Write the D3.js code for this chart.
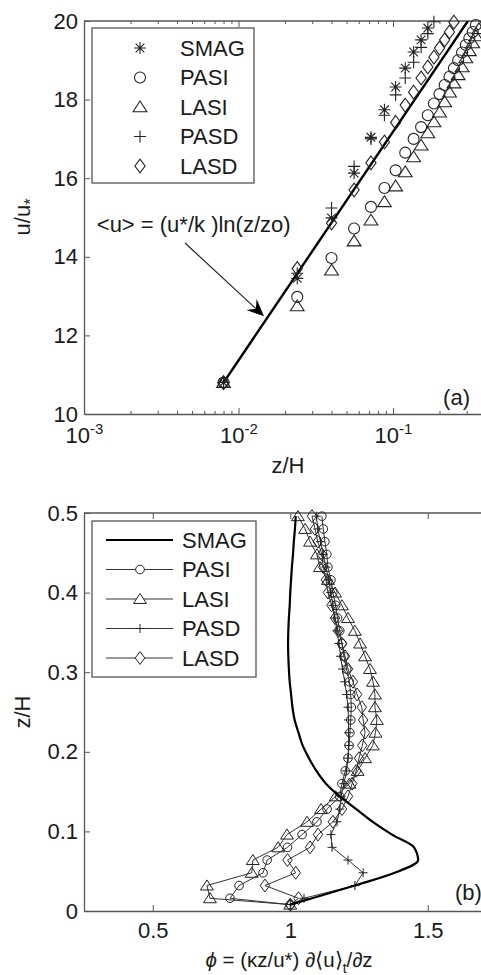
<!DOCTYPE html>
<html><head><meta charset="utf-8">
<script src="https://cdn.jsdelivr.net/npm/d3@7"></script>
<style>
html,body{margin:0;padding:0;background:#fff;}
svg{display:block;font-family:"Liberation Sans",Arial,sans-serif;}
</style></head>
<body>
<svg id="c" width="481" height="975"></svg>
<script>
// ---------------- DATA ----------------
// Panel (a): mean velocity u/u* vs z/H (log z)
const seriesNames = ["SMAG", "PASI", "LASI", "PASD", "LASD"];
const zTop = [0.008, 0.024, 0.040, 0.056, 0.072, 0.088, 0.104, 0.120, 0.136, 0.152, 0.168, 0.184,
              0.200, 0.216, 0.232, 0.248, 0.264, 0.280, 0.296, 0.312, 0.328, 0.344, 0.360];
const uSMAG = [10.80, 13.45, 14.99, 16.13, 17.04, 17.74, 18.32, 18.80, 19.21, 19.52, 19.82];
const uPASI = [10.80, 12.98, 13.97, 14.72, 15.27, 15.75, 16.20, 16.65, 17.00, 17.30, 17.60, 17.90,
               18.14, 18.37, 18.58, 18.80, 19.00, 19.20, 19.39, 19.56, 19.72, 19.90];
const uLASI = [10.80, 12.75, 13.66, 14.40, 14.93, 15.40, 15.80, 16.16, 16.54, 16.84, 17.15, 17.43,
               17.68, 17.94, 18.19, 18.42, 18.63, 18.83, 19.06, 19.24, 19.44, 19.62, 19.80];
const uPASD = [10.80, 13.58, 15.24, 16.30, 17.00, 17.60, 18.12, 18.55, 18.95, 19.33, 19.68, 19.98];
const uLASD = [10.80, 13.70, 14.86, 15.70, 16.39, 16.92, 17.42, 17.86, 18.19, 18.55, 18.83, 19.08,
               19.31, 19.52, 19.72, 19.97];
// log-law reference line endpoints (z/H, u/u*)
const lawZ = [0.008, 0.31];
const lawU = [10.80, 20.04];
const yTicksTop = [10, 12, 14, 16, 18, 20];
const xTicksTop = [1e-3, 1e-2, 1e-1];

// Panel (b): phi vs z/H
const zBot = [0.008, 0.016, 0.032, 0.048, 0.064, 0.080, 0.096, 0.112, 0.128, 0.144, 0.160, 0.176,
              0.192, 0.208, 0.224, 0.240, 0.256, 0.272, 0.288, 0.304, 0.320, 0.336, 0.352, 0.368,
              0.384, 0.400, 0.416, 0.432, 0.448, 0.464, 0.480, 0.496];
const phiSMAG = [1.00, 1.08, 1.235, 1.38, 1.465, 1.45, 1.37, 1.30, 1.24, 1.18, 1.13, 1.095,
                 1.068, 1.045, 1.03, 1.016, 1.008, 1.003, 0.998, 0.995, 0.993, 0.992, 0.993, 0.995,
                 0.998, 1.00, 1.003, 1.006, 1.01, 1.013, 1.017, 1.02];
const phiPASI = [1.00, 0.781, 0.814, 0.901, 0.916, 0.99, 1.043, 1.097, 1.134, 1.18, 1.188, 1.20,
                 1.21, 1.214, 1.217, 1.22, 1.222, 1.22, 1.215, 1.205, 1.195, 1.188, 1.18, 1.172,
                 1.165, 1.155, 1.148, 1.137, 1.133, 1.126, 1.12, 1.115];
const phiLASI = [1.00, 0.708, 0.697, 0.86, 0.864, 0.956, 0.988, 1.061, 1.112, 1.165, 1.215, 1.245,
                 1.272, 1.30, 1.31, 1.315, 1.308, 1.308, 1.301, 1.29, 1.272, 1.254, 1.235, 1.21,
                 1.188, 1.163, 1.137, 1.108, 1.097, 1.072, 1.054, 1.028];
const phiPASD = [1.00, 1.05, 1.235, 1.265, 1.21, 1.152, 1.148, 1.17, 1.18, 1.185, 1.195, 1.205,
                 1.21, 1.212, 1.212, 1.212, 1.21, 1.205, 1.198, 1.19, 1.183, 1.177, 1.17, 1.162,
                 1.155, 1.147, 1.14, 1.13, 1.12, 1.11, 1.10, 1.095];
const phiLASD = [1.00, 1.03, 0.908, 1.02, 0.99, 1.072, 1.101, 1.155, 1.188, 1.21, 1.225, 1.24,
                 1.25, 1.262, 1.272, 1.265, 1.26, 1.243, 1.228, 1.21, 1.199, 1.188, 1.174, 1.163,
                 1.15, 1.137, 1.13, 1.12, 1.115, 1.10, 1.09, 1.079];
const yTicksBot = [0, 0.1, 0.2, 0.3, 0.4, 0.5];
const xTicksBot = [0.5, 1, 1.5];

// ---------------- DRAWING ----------------
const svg = d3.select("#c");
const INK = "#1a1a1a", AX = "#555";
const FS = 22;

function sym(type, s) {
  switch (type) {
    case "circle": return `M${-s},0A${s},${s} 0 1,0 ${s},0A${s},${s} 0 1,0 ${-s},0Z`;
    case "tri": return `M0,${-s*1.0}L${s*1.15},${s*0.8}L${-s*1.15},${s*0.8}Z`;
    case "diamond": return `M0,${-s*1.15}L${s*0.85},0L0,${s*1.15}L${-s*0.85},0Z`;
    case "plus": return `M${-s},0H${s}M0,${-s}V${s}`;
    case "star": { const d = s*0.72;
      return `M${-s},0H${s}M0,${-s}V${s}M${-d},${-d}L${d},${d}M${-d},${d}L${d},${-d}`; }
  }
  return "";
}
const symOf = {SMAG: "star", PASI: "circle", LASI: "tri", PASD: "plus", LASD: "diamond"};

function styleAxis(g) {
  g.selectAll("path.domain").attr("stroke", AX).attr("stroke-width", 1.3);
  g.selectAll("line").attr("stroke", AX);
  g.selectAll("text").attr("font-size", FS).attr("fill", INK).attr("font-family", "Liberation Sans, Arial, sans-serif");
}

// ===== Panel (a) =====
const xT = d3.scaleLog().domain([1e-3, 1]).range([84, 547.5]);
const yT = d3.scaleLinear().domain([10, 20]).range([414, 21]);
const gA = svg.append("g");

svg.append("clipPath").attr("id", "clipA").append("rect")
  .attr("x", 84).attr("y", 21).attr("width", 463.5).attr("height", 393);

gA.append("line").attr("x1", 84).attr("x2", 547.5).attr("y1", 21).attr("y2", 21).attr("stroke", AX).attr("stroke-width", 1.3);

const minorTop = [];
[1e-3, 1e-2, 1e-1].forEach(dd => { for (let k = 2; k <= 9; k++) minorTop.push(dd * k); });

const axBxMinor = gA.append("g").attr("transform", "translate(0,414)")
  .call(d3.axisBottom(xT).tickValues(minorTop).tickSize(-3).tickSizeOuter(0).tickFormat(() => ""));
const axTxMinor = gA.append("g").attr("transform", "translate(0,21)")
  .call(d3.axisTop(xT).tickValues(minorTop).tickSize(-3).tickSizeOuter(0).tickFormat(() => ""));
axBxMinor.selectAll(".domain").remove();
axTxMinor.selectAll(".domain").remove();
axBxMinor.selectAll("text").remove();
axTxMinor.selectAll("text").remove();

const axBx = gA.append("g").attr("transform", "translate(0,414)")
  .call(d3.axisBottom(xT).tickValues(xTicksTop).tickSize(-6).tickSizeOuter(0).tickPadding(13).tickFormat(() => ""));
const axTx = gA.append("g").attr("transform", "translate(0,21)")
  .call(d3.axisTop(xT).tickValues(xTicksTop).tickSize(-6).tickSizeOuter(0).tickFormat(() => ""));
axTx.selectAll(".domain").remove();
axTx.selectAll("text").remove();
const axLy = gA.append("g").attr("transform", "translate(84,0)")
  .call(d3.axisLeft(yT).tickValues(yTicksTop).tickSize(-6).tickSizeOuter(0).tickPadding(6).tickFormat(d3.format("d")));
[axBxMinor, axTxMinor, axBx, axLy, axTx].forEach(styleAxis);
axBx.selectAll(".tick text").each(function(d) {
  const t = d3.select(this);
  t.text(null).attr("font-size", FS).attr("fill", INK);
  t.append("tspan").text("10");
  t.append("tspan").attr("dy", -9).attr("font-size", 15).text(String(Math.round(Math.log10(d))));
});

// log-law line
gA.append("path").attr("clip-path", "url(#clipA)")
  .datum(lawZ.map((z, i) => [z, lawU[i]]))
  .attr("d", d3.line().x(d => xT(d[0])).y(d => yT(d[1])))
  .attr("fill", "none").attr("stroke", "#000").attr("stroke-width", 2.4);

// markers
const topSeries = {SMAG: uSMAG, PASI: uPASI, LASI: uLASI, PASD: uPASD, LASD: uLASD};
["LASI", "PASI", "LASD", "PASD", "SMAG"].forEach(name => {
  const vals = topSeries[name];
  const pts = vals.map((u, i) => [zTop[i], u]).filter(p => p[1] <= 20.05);
  gA.append("g").selectAll("path").data(pts).join("path")
    .attr("transform", d => `translate(${xT(d[0])},${yT(d[1])})`)
    .attr("d", sym(symOf[name], symOf[name] === "circle" ? 5.5 : 6))
    .attr("fill", "none").attr("stroke", "#222").attr("stroke-width", 1.1);
});

// legend (a)
const legA = gA.append("g");
legA.append("rect").attr("x", 92).attr("y", 28).attr("width", 162).attr("height", 155)
  .attr("fill", "#fff").attr("stroke", AX).attr("stroke-width", 1.3);
const legYa = d3.scalePoint().domain(seriesNames).range([48, 166]);
seriesNames.forEach(n => {
  legA.append("path").attr("transform", `translate(140,${legYa(n)})`)
    .attr("d", sym(symOf[n], symOf[n] === "circle" ? 5.5 : 6))
    .attr("fill", "none").attr("stroke", "#222").attr("stroke-width", 1.1);
  legA.append("text").attr("x", 180).attr("y", legYa(n)).attr("dy", "0.36em")
    .attr("font-size", FS).attr("fill", INK).text(n);
});

// annotation + arrow (data coordinates)
const annoZ = [0.00121], annoU = [14.63];
const arrowZ = [0.00451, 0.01462], arrowU = [14.35, 12.49];
gA.append("text").attr("x", xT(annoZ[0])).attr("y", yT(annoU[0]))
  .attr("font-size", FS).attr("fill", INK).text("<u> = (u*/k )ln(z/zo)");
{
  const x1 = xT(arrowZ[0]), y1 = yT(arrowU[0]), x2 = xT(arrowZ[1]), y2 = yT(arrowU[1]);
  const ang = Math.atan2(y2 - y1, x2 - x1);
  const L = 17, Wd = 7.5, back = 11;
  gA.append("line").attr("x1", x1).attr("y1", y1)
    .attr("x2", x2 - Math.cos(ang) * back).attr("y2", y2 - Math.sin(ang) * back)
    .attr("stroke", "#222").attr("stroke-width", 1.2);
  const c = Math.cos(ang), s = Math.sin(ang);
  const P = (a, b) => [x2 + a * c - b * s, y2 + a * s + b * c];
  const p0 = P(0, 0), p1 = P(-L, -Wd), p2 = P(-back, 0), p3 = P(-L, Wd);
  gA.append("path").attr("d", `M${p0}L${p1}L${p2}L${p3}Z`).attr("fill", "#000");
}
gA.append("text").attr("x", xT(0.211)).attr("y", yT(10.23)).attr("font-size", FS).attr("fill", INK).text("(a)");

// axis titles (a)
gA.append("text").attr("transform", "translate(30,217) rotate(-90)").attr("text-anchor", "middle")
  .attr("font-size", FS).attr("fill", INK)
  .call(t => { t.append("tspan").text("u/u"); t.append("tspan").attr("dy", 6).attr("font-size", 16).text("*"); });
gA.append("text").attr("x", 288).attr("y", 473).attr("text-anchor", "middle")
  .attr("font-size", FS).attr("fill", INK).text("z/H");

// ===== Panel (b) =====
const xB = d3.scaleLinear().domain([0.25, 1.75]).range([84, 496.5]);
const yB = d3.scaleLinear().domain([0, 0.5]).range([911, 513]);
const gB = svg.append("g");
gB.append("line").attr("x1", 84).attr("x2", 496.5).attr("y1", 513).attr("y2", 513).attr("stroke", AX).attr("stroke-width", 1.3);
const bx = gB.append("g").attr("transform", "translate(0,911)")
  .call(d3.axisBottom(xB).tickValues(xTicksBot).tickSize(-6).tickSizeOuter(0).tickPadding(11.5).tickFormat(d3.format("")));
const tx = gB.append("g").attr("transform", "translate(0,513)")
  .call(d3.axisTop(xB).tickValues(xTicksBot).tickSize(-6).tickSizeOuter(0).tickFormat(() => ""));
tx.selectAll(".domain").remove();
tx.selectAll("text").remove();
const by = gB.append("g").attr("transform", "translate(84,0)")
  .call(d3.axisLeft(yB).tickValues(yTicksBot).tickSize(-6).tickSizeOuter(0).tickPadding(6).tickFormat(d3.format("")));
[bx, tx, by].forEach(styleAxis);

const botSeries = {PASI: phiPASI, LASI: phiLASI, PASD: phiPASD, LASD: phiLASD};
const lineB = d3.line().x(d => xB(d[0])).y(d => yB(d[1]));
["LASI", "PASI", "LASD", "PASD"].forEach(name => {
  const pts = botSeries[name].map((p, i) => [p, zBot[i]]);
  gB.append("path").datum(pts).attr("d", lineB).attr("fill", "none").attr("stroke", "#333").attr("stroke-width", 1);
  gB.append("g").selectAll("path").data(pts).join("path")
    .attr("transform", d => `translate(${xB(d[0])},${yB(d[1])})`)
    .attr("d", sym(symOf[name], name === "PASI" ? 4.3 : (name === "PASD" ? 4.5 : 5.6)))
    .attr("fill", "none").attr("stroke", "#222").attr("stroke-width", 1);
});
gB.append("path").datum(phiSMAG.map((p, i) => [p, zBot[i]]))
  .attr("d", d3.line().curve(d3.curveMonotoneY).x(d => xB(d[0])).y(d => yB(d[1])))
  .attr("fill", "none").attr("stroke", "#000").attr("stroke-width", 2.2);

// legend (b)
const legB = gB.append("g");
legB.append("rect").attr("x", 92).attr("y", 521).attr("width", 164).attr("height", 156)
  .attr("fill", "#fff").attr("stroke", AX).attr("stroke-width", 1.3);
const legYb = d3.scalePoint().domain(seriesNames).range([540, 658]);
seriesNames.forEach(n => {
  const y = legYb(n);
  legB.append("line").attr("x1", 106).attr("x2", 173).attr("y1", y).attr("y2", y)
    .attr("stroke", n === "SMAG" ? "#000" : "#333").attr("stroke-width", n === "SMAG" ? 2.2 : 1);
  if (n !== "SMAG") {
    legB.append("path").attr("transform", `translate(140,${y})`)
      .attr("d", sym(symOf[n], n === "PASI" ? 4.3 : (n === "PASD" ? 4.5 : 5.6)))
      .attr("fill", n === "PASD" ? "none" : "#fff").attr("stroke", "#222").attr("stroke-width", 1);
  }
  legB.append("text").attr("x", 182).attr("y", y).attr("dy", "0.36em")
    .attr("font-size", FS).attr("fill", INK).text(n);
});

gB.append("text").attr("x", xB(1.599)).attr("y", yB(0.0138)).attr("font-size", FS).attr("fill", INK).text("(b)");

// axis titles (b)
gB.append("text").attr("transform", "translate(30,712) rotate(-90)").attr("text-anchor", "middle")
  .attr("font-size", FS).attr("fill", INK).text("z/H");
gB.append("text").attr("x", 289).attr("y", 967).attr("text-anchor", "middle")
  .attr("font-size", 20.5).attr("fill", INK)
  .call(t => {
    t.append("tspan").attr("font-style", "italic").text("\u03D5");
    t.append("tspan").text(" = (\u03BAz/u*) \u2202\u27E8u\u27E9");
    t.append("tspan").attr("dy", 6).attr("font-size", 14).text("t");
    t.append("tspan").attr("dy", -6).text("/\u2202z");
  });
</script>
</body></html>
